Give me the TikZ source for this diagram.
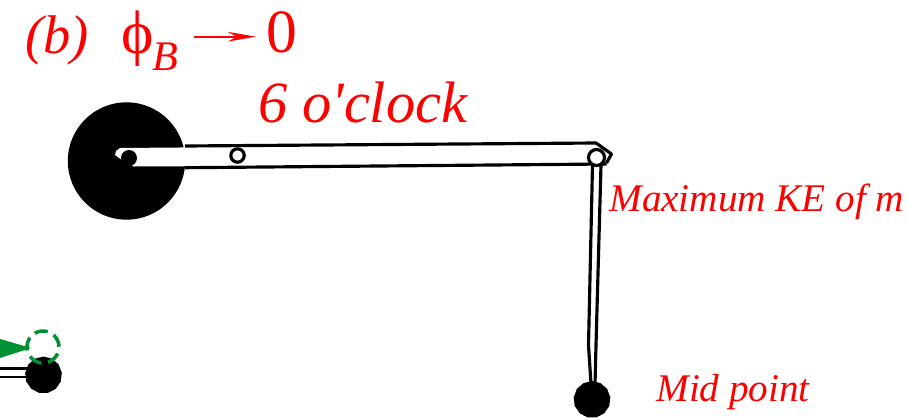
\documentclass[tikz,border=0pt]{standalone}
\usepackage{fontspec}
\setmainfont{Liberation Serif}
\newfontfamily\plainserif{Liberation Serif}
\usetikzlibrary{arrows.meta,positioning,shapes.geometric}
\definecolor{massgreen}{RGB}{0,146,50}
\tikzset{
  lbl/.style={text=red, font=\itshape, anchor=base west, inner sep=0pt},
  armline/.style={line width=1.8pt, line join=round},
  bob/.style={draw=none, fill=black, regular polygon, regular polygon sides=13, inner sep=0pt, minimum size=21pt}
}
\newcommand{\sizefont}[1]{\fontsize{#1}{#1}\selectfont}
\begin{document}
\begin{tikzpicture}[x=0.02cm,y=-0.02cm]
  \useasboundingbox (0,0) rectangle (908,419);
  % disk and arm
  \fill (126.5,161) circle (58.7);
  \fill[white] (115,155) -- (116,151) -- (120,148) -- (596,144) -- (611,155) -- (606,163) -- (590,165) -- (134,166.5) -- (122,160) -- cycle;
  \fill (129,158) circle (8);
  \draw[armline] (185,146) -- (596,143) -- (611.5,154) -- (606.5,163);
  \draw[armline] (185,167.7) -- (606.5,164);
  \draw[armline, fill=white] (237.5,155.5) circle (6.7);
  % rod
  \draw[armline] (592.5,165) -- (588.5,345) -- (591,384);
  \draw[armline] (601,165) -- (596,345) -- (595,384);
  \draw[armline, fill=white] (596.5,157.5) circle (8);
  \node[bob] (midbob) at (592,399.5) {};
  % left edge
  \draw[line width=1.5pt] (0,368.3) -- (30,368.3) (0,377) -- (30,377);
  \node[bob] (leftbob) at (43.5,375) {};
  \fill[massgreen] (0,339) -- (31,348) -- (0,358) -- cycle;
  \draw[massgreen, line width=2pt, dash pattern=on 7.6pt off 3.8pt, dash phase=7.6pt] (43,347) circle (16);
  % labels
  \node[lbl] (panel) at (25,53) {\sizefont{31}(b)};
  \node[lbl, font=\upshape] (phi) at (121,53) {\sizefont{35}\char"03D5};
  \node[lbl] (phisub) at (152,70) {\sizefont{24}B};
  \node[lbl, font=\upshape] (zero) at (266,52) {\sizefont{35}0};
  \coordinate (arrowtail) at (194,36.7);
  \coordinate (arrowhead) at (256,36.7);
  \draw[red, line width=1.1pt, -{Stealth[length=16pt, width=5.5pt, inset=5pt]}] (arrowtail) -- (arrowhead);
  \node[lbl] (clock) at (258,122.5) {\sizefont{33.3}\plainserif\itshape 6 o'clock};
  \node[lbl] (maxke) at (609,211) {\sizefont{22.3}Maximum KE of m};
  \node[lbl] (midpt) at (656,401) {\sizefont{22.3}Mid point};
\end{tikzpicture}
\end{document}
